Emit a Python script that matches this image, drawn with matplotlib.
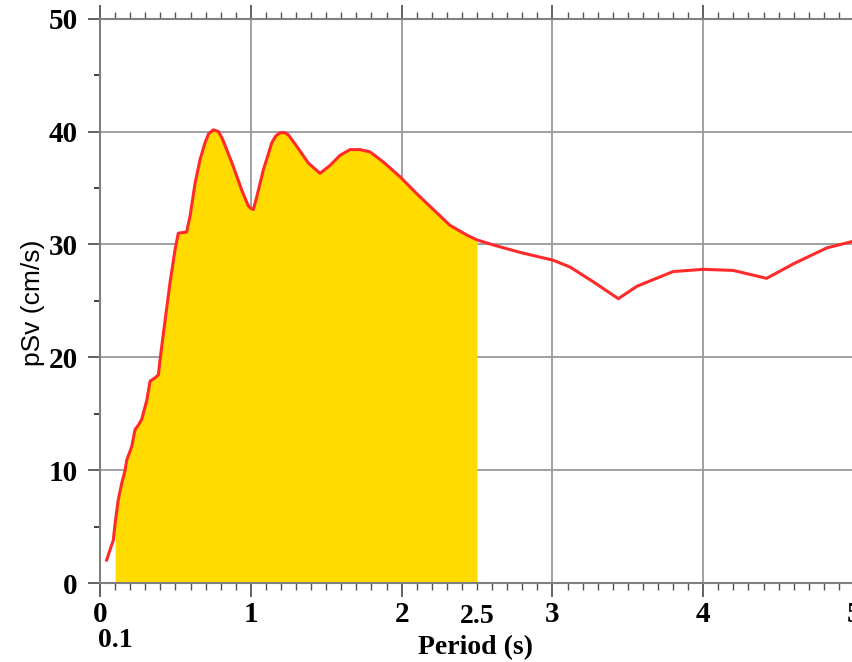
import matplotlib
matplotlib.use("Agg")
import matplotlib.pyplot as plt
import matplotlib.transforms as mtransforms
import numpy as np

# Pseudo-velocity response spectrum
period = [0.044, 0.066, 0.088, 0.10, 0.121, 0.144, 0.166, 0.177, 0.21, 0.232,
          0.254, 0.276, 0.31, 0.332, 0.365, 0.387, 0.398, 0.42, 0.464, 0.497,
          0.519, 0.574, 0.597, 0.63, 0.663, 0.696, 0.72, 0.751, 0.785, 0.81,
          0.84, 0.884, 0.94, 0.984, 1.0, 1.017, 1.039, 1.083, 1.139, 1.165,
          1.194, 1.225, 1.249, 1.304, 1.382, 1.459, 1.525, 1.592, 1.658, 1.724,
          1.79, 1.879, 1.989, 2.1, 2.21, 2.32, 2.43, 2.5, 2.61, 2.785,
          3.006, 3.117, 3.27, 3.437, 3.56, 3.80, 4.0, 4.2, 4.42, 4.6,
          4.82, 4.985]
psv = [2.06, 2.95, 3.8, 5.3, 7.4, 8.86, 10.0, 10.9, 12.1, 13.6,
       14.0, 14.5, 16.2, 17.9, 18.2, 18.45, 19.8, 22.1, 26.6, 29.5,
       31.0, 31.1, 32.5, 35.4, 37.5, 39.0, 39.8, 40.15, 40.0, 39.4,
       38.4, 36.9, 34.8, 33.4, 33.2, 33.1, 34.2, 36.6, 39.0, 39.6,
       39.9, 39.9, 39.7, 38.7, 37.2, 36.3, 37.0, 37.9, 38.4, 38.4,
       38.2, 37.3, 36.0, 34.5, 33.1, 31.7, 30.85, 30.4, 29.95, 29.3,
       28.6, 28.0, 26.7, 25.2, 26.3, 27.6, 27.8, 27.7, 27.0, 28.3,
       29.7, 30.25]

# Period band shaded under the curve
band_start, band_end = 0.1, 2.5

x_ticks = [0, 1, 2, 3, 4, 5]
x_tick_labels = ["0", "1", "2", "3", "4", "5"]
y_ticks = [0, 10, 20, 30, 40, 50]
extra_x_labels = [(2.5, "2.5", -0.059), (0.1, "0.1", -0.1005)]

serif = ["Liberation Serif", "DejaVu Serif"]
sans = ["Liberation Sans", "DejaVu Sans"]

fig = plt.figure(figsize=(8.52, 6.62), dpi=100)
ax = fig.add_axes([0.1174, 0.1189, 0.885, 0.853])

p = np.asarray(period)
v = np.asarray(psv)
mask = (p >= band_start) & (p <= band_end)
ax.fill_between(p[mask], 0, v[mask], color="#FFDB00", linewidth=0, zorder=2)
ax.plot(p, v, color="#FF2A2A", linewidth=2.2, zorder=3,
        solid_joinstyle="round")

ax.set_xlim(0, 5)
ax.set_ylim(0, 50)
ax.set_xticks(x_ticks)
ax.set_xticklabels(x_tick_labels)
ax.set_xticks(np.arange(0, 5.001, 0.1), minor=True)
ax.set_yticks(y_ticks)
ax.set_yticks([5, 15, 25, 35, 45], minor=True)

ax.grid(True, which="major", color="#9a9a9a", linewidth=1.3, zorder=1)
ax.set_axisbelow(True)

for side in ["left", "bottom", "top"]:
    ax.spines[side].set_color("#808080")
    ax.spines[side].set_linewidth(1.5)
ax.spines["right"].set_visible(False)

ax.tick_params(axis="x", which="both", direction="out", top=True, bottom=True,
               color="#555555")
ax.tick_params(axis="x", which="major", length=10, width=1.3, pad=3)
ax.tick_params(axis="x", which="minor", length=5, width=1.0)
ax.tick_params(axis="y", which="major", direction="out", length=9, width=1.3,
               pad=7, color="#555555")
ax.tick_params(axis="y", which="minor", direction="out", length=4, width=1.3,
               color="#333333")

for lbl in ax.get_xticklabels() + ax.get_yticklabels():
    lbl.set_fontfamily(serif)
    lbl.set_fontweight("bold")
    lbl.set_fontsize(21)

trans = mtransforms.blended_transform_factory(ax.transData, ax.transAxes)
for xv, txt, yv in extra_x_labels:
    ax.text(xv, yv, txt, transform=trans, ha="center", va="center",
            fontfamily=serif, fontweight="bold", fontsize=20, clip_on=False)

ax.text(2.49, -0.1135, "Period (s)", transform=trans, ha="center", va="center",
        fontfamily=serif, fontweight="bold", fontsize=20, clip_on=False)

fig.text(33 / 852, 1 - 303 / 662, "pSv (cm/s)", rotation=90, ha="center",
         va="center", fontfamily=sans, fontsize=19)

fig.savefig("out.png", dpi=100)
